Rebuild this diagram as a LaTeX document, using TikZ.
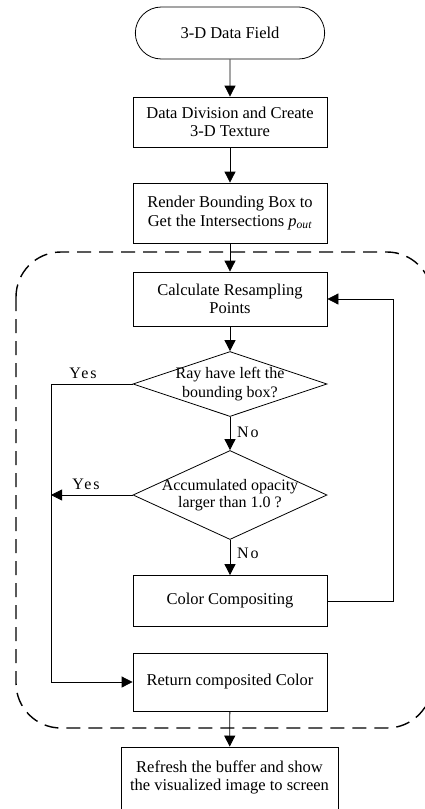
\documentclass[tikz,border=0pt]{standalone}
\usepackage{fontspec}
\setmainfont{Liberation Serif}
\usetikzlibrary{shapes.misc,shapes.geometric,arrows.meta}
\begin{document}
\begin{tikzpicture}[x=1pt,y=-1pt,
  font=\fontsize{16.5}{18.5}\selectfont,
  box/.style={draw,line width=0.8pt,minimum width=194pt,align=center,inner sep=0pt},
  dia/.style={draw,diamond,line width=0.8pt,inner sep=0pt},
  arr/.style={line width=0.8pt,-{Triangle[length=11pt,width=11pt]}},
  ln/.style={line width=0.8pt},
  lbl/.style={font=\fontsize{16}{16}\selectfont\addfontfeatures{LetterSpace=12},inner sep=0pt}]
\useasboundingbox (0,0) rectangle (425,809);
\clip (0,0) rectangle (425,809);
% dashed group
\draw[line width=1.4pt,dash pattern=on 14pt off 8pt,rounded corners=45pt] (16,252) rectangle (432,728);
% nodes
\node[draw,rounded rectangle,line width=0.8pt,minimum width=196pt,minimum height=52pt] (s) at (230,33) {3-D Data Field};
\node[box,minimum height=50pt] (b2) at (230,122) {Data Division and Create\\3-D Texture};
\node[box,minimum height=60pt] (b3) at (230,213) {Render Bounding Box to\\Get the Intersections \textit{p}\textsubscript{\textit{out}}};
\node[box,minimum height=54pt] (b4) at (230,299) {Calculate Resampling\\Points};
\node[dia,minimum width=194pt,minimum height=65pt] (d1) at (230,384) {};
\node[align=center,inner sep=0pt,font=\fontsize{16}{19}\selectfont] (t1) at (230,384) {Ray have left the\\bounding box?};
\node[dia,minimum width=194pt,minimum height=89pt] (d2) at (230,495) {};
\node[align=center,inner sep=0pt,font=\fontsize{16}{17.5}\selectfont] (t2) at (230,495) {Accumulated opacity\\larger than 1.0 ?};
\node[box,minimum height=51pt] (c5) at (230,601) {Color Compositing};
\node[box,minimum height=58pt] (b6) at (230,682) {Return composited Color};
\node[draw,line width=0.8pt,minimum width=217pt,minimum height=80pt,inner sep=0pt] (b7) at (229.5,787) {};
\node[align=center,inner sep=0pt] (t7) at (229.5,777.5) {Refresh the buffer and show\\the visualized image to screen};
\coordinate (y2) at (51,495);
\coordinate (fb) at (393,601);
% connectors
\draw[arr] (s) -- (b2);
\draw[arr] (b2) -- (b3);
\draw[arr] (b3) -- (b4);
\draw[arr] (b4) -- (d1);
\draw[arr] (d1) -- (d2);
\draw[arr] (d2) -- (c5);
\draw[arr] (b6) -- (b7);
\draw[arr] (c5.east) -- (fb) |- (b4.east);
\draw[arr] (d1.west) -- (51,384) |- (b6.west);
\draw[arr] (d2.west) -- (y2);
% labels
\node[lbl] (yes1) at (83,373) {Yes};
\node[lbl] (yes2) at (86,484) {Yes};
\node[lbl,anchor=west] (no1) at (237,432) {No};
\node[lbl,anchor=west] (no2) at (237,553) {No};
\end{tikzpicture}
\end{document}
